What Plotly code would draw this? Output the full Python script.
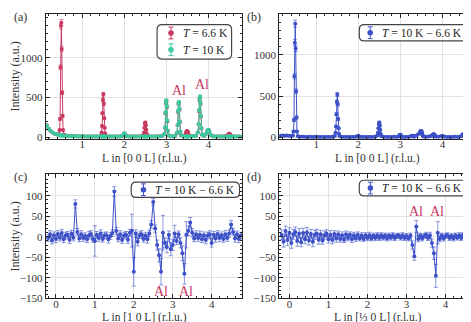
import plotly.graph_objects as go

W, H = 471, 322
FONT = "Liberation Serif"
RED = "#c8385f"
TEAL = "#3cc8a0"
BLUE = "#3c50c8"

# ---- [0 0 L] scans, panels (a) and (b) ----
L_00L = [
    0.15, 0.20, 0.25, 0.30, 0.35, 0.40, 0.44, 0.46, 0.47, 0.48,
    0.49, 0.50, 0.51, 0.52, 0.53, 0.54, 0.56, 0.60, 0.65, 0.70,
    0.75, 0.80, 0.85, 0.90, 0.95, 1.00, 1.05, 1.10, 1.15, 1.20,
    1.25, 1.30, 1.35, 1.40, 1.44, 1.46, 1.47, 1.48, 1.49, 1.50,
    1.51, 1.52, 1.53, 1.54, 1.56, 1.60, 1.65, 1.70, 1.75, 1.80,
    1.85, 1.90, 1.95, 1.98, 2.00, 2.02, 2.05, 2.10, 2.15, 2.20,
    2.25, 2.30, 2.35, 2.40, 2.45, 2.47, 2.48, 2.49, 2.50, 2.51,
    2.52, 2.53, 2.55, 2.60, 2.65, 2.70, 2.75, 2.80, 2.85, 2.90,
    2.95, 2.97, 2.98, 2.99, 3.00, 3.01, 3.02, 3.03, 3.05, 3.10,
    3.15, 3.20, 3.25, 3.27, 3.28, 3.29, 3.30, 3.31, 3.32, 3.33,
    3.35, 3.40, 3.45, 3.47, 3.48, 3.49, 3.50, 3.51, 3.52, 3.53,
    3.55, 3.60, 3.65, 3.70, 3.75, 3.77, 3.78, 3.79, 3.80, 3.81,
    3.82, 3.83, 3.85, 3.90, 3.95, 3.98, 4.00, 4.02, 4.05, 4.10,
    4.15, 4.20, 4.25, 4.30, 4.35, 4.40, 4.45, 4.47, 4.48, 4.49,
    4.50, 4.51, 4.52, 4.53, 4.55, 4.60, 4.65, 4.70, 4.75,
]
I_6K6 = [
    150, 105, 75, 55, 42, 35, 40, 90, 230, 880,
    1400, 1440, 1110, 560, 270, 90, 30, 22, 18, 15,
    13, 12, 11, 10, 10, 14, 10, 9, 9, 9,
    9, 9, 9, 10, 20, 60, 140, 300, 470, 540,
    420, 240, 120, 50, 18, 10, 9, 9, 9, 9,
    9, 10, 14, 30, 48, 32, 14, 10, 9, 9,
    9, 9, 10, 12, 25, 60, 120, 170, 185, 150,
    95, 45, 18, 10, 9, 9, 9, 10, 12, 16,
    40, 120, 300, 430, 450, 380, 200, 80, 25, 12,
    10, 14, 50, 150, 320, 420, 430, 350, 190, 70,
    25, 14, 30, 55, 70, 78, 75, 65, 45, 25,
    14, 11, 12, 18, 60, 160, 330, 470, 500, 420,
    260, 110, 30, 20, 45, 80, 90, 70, 30, 12,
    10, 10, 10, 10, 10, 11, 16, 28, 38, 44,
    45, 40, 30, 20, 12, 10, 10, 9, 9,
]
E_6K6 = [
    12, 10, 9, 8, 7, 6, 7, 10, 16, 30,
    38, 40, 34, 24, 17, 10, 6, 5, 5, 4,
    4, 4, 4, 3, 3, 4, 3, 3, 3, 3,
    3, 3, 3, 3, 5, 8, 12, 17, 22, 24,
    21, 16, 11, 7, 4, 3, 3, 3, 3, 3,
    3, 3, 4, 6, 7, 6, 4, 3, 3, 3,
    3, 3, 3, 4, 5, 8, 11, 13, 14, 12,
    10, 7, 4, 3, 3, 3, 3, 3, 4, 4,
    6, 11, 17, 21, 21, 19, 14, 9, 5, 4,
    3, 4, 7, 12, 18, 20, 21, 19, 14, 8,
    5, 4, 6, 7, 8, 9, 9, 8, 7, 5,
    4, 3, 4, 4, 8, 13, 18, 22, 22, 20,
    16, 10, 6, 5, 7, 9, 10, 8, 6, 3,
    3, 3, 3, 3, 3, 3, 4, 5, 6, 7,
    7, 6, 5, 4, 4, 3, 3, 3, 3,
]
I_10K = [
    148, 108, 78, 57, 44, 36, 30, 27, 26, 25,
    24, 24, 23, 22, 21, 20, 19, 17, 15, 14,
    13, 12, 11, 11, 10, 15, 10, 9, 9, 9,
    9, 9, 9, 9, 9, 9, 9, 9, 10, 10,
    10, 9, 9, 9, 9, 9, 9, 9, 9, 9,
    9, 10, 15, 32, 52, 35, 15, 10, 9, 9,
    9, 9, 9, 9, 9, 9, 9, 9, 9, 9,
    9, 9, 9, 9, 9, 9, 9, 10, 12, 16,
    40, 125, 310, 440, 460, 390, 210, 85, 27, 12,
    10, 14, 52, 155, 330, 430, 440, 360, 195, 72,
    25, 14, 10, 9, 9, 9, 9, 9, 9, 9,
    10, 11, 12, 18, 62, 165, 340, 480, 510, 430,
    270, 115, 32, 20, 48, 85, 95, 75, 32, 12,
    10, 10, 10, 10, 9, 9, 9, 9, 9, 9,
    9, 9, 9, 9, 9, 9, 9, 9, 9,
]
E_10K = [
    12, 10, 9, 8, 7, 6, 5, 5, 5, 5,
    5, 5, 5, 5, 5, 4, 4, 4, 4, 4,
    4, 4, 3, 3, 3, 4, 3, 3, 3, 3,
    3, 3, 3, 3, 3, 3, 3, 3, 3, 3,
    3, 3, 3, 3, 3, 3, 3, 3, 3, 3,
    3, 3, 4, 6, 7, 6, 4, 3, 3, 3,
    3, 3, 3, 3, 3, 3, 3, 3, 3, 3,
    3, 3, 3, 3, 3, 3, 3, 3, 4, 4,
    6, 11, 18, 21, 22, 20, 15, 9, 5, 4,
    3, 4, 7, 12, 18, 21, 21, 19, 14, 8,
    5, 4, 3, 3, 3, 3, 3, 3, 3, 3,
    3, 3, 4, 4, 8, 13, 18, 22, 23, 21,
    16, 11, 6, 5, 7, 9, 10, 9, 6, 3,
    3, 3, 3, 3, 3, 3, 3, 3, 3, 3,
    3, 3, 3, 3, 3, 3, 3, 3, 3,
]
I_DIFF_00L = [
    18, 20, 17, 19, 16, 14, 20, 70, 210, 740,
    1150, 1380, 1080, 560, 240, 70, 15, 6, 5, 4,
    3, 3, 4, 2, 3, 5, 3, 2, 3, 2,
    3, 2, 3, 4, 15, 55, 130, 280, 430, 520,
    400, 220, 110, 40, 10, 4, 3, 2, 3, 2,
    3, 2, 4, 10, 18, 8, 3, 2, 3, 2,
    3, 2, 3, 4, 20, 55, 110, 160, 178, 140,
    90, 40, 12, 4, 3, 2, 3, 2, 4, 3,
    5, 10, 18, 25, 28, 20, 10, 5, 3, 2,
    3, 4, 8, 12, 15, 18, 17, 14, 9, 5,
    15, 25, 45, 60, 68, 75, 72, 60, 40, 20,
    8, 4, 6, 10, 18, 26, 32, 35, 33, 28,
    20, 12, 6, 4, 8, 12, 14, 10, 5, 3,
    3, 2, 3, 4, 3, 5, 12, 22, 30, 35,
    36, 32, 24, 15, 8, 4, 3, 2, 3,
]
E_DIFF_00L = [
    8, 8, 8, 8, 8, 8, 9, 12, 18, 32,
    40, 44, 38, 28, 20, 12, 7, 5, 5, 5,
    5, 5, 5, 5, 5, 6, 5, 5, 5, 5,
    5, 5, 5, 5, 6, 9, 13, 18, 22, 25,
    22, 17, 12, 8, 6, 5, 5, 5, 5, 5,
    5, 5, 5, 7, 8, 6, 5, 5, 5, 5,
    5, 5, 5, 5, 6, 9, 12, 14, 15, 13,
    11, 8, 6, 5, 5, 5, 5, 5, 5, 5,
    7, 10, 14, 17, 18, 17, 13, 9, 6, 5,
    5, 6, 8, 11, 13, 14, 14, 13, 10, 7,
    6, 6, 8, 10, 11, 12, 12, 11, 9, 7,
    6, 5, 6, 6, 8, 10, 12, 13, 13, 12,
    10, 8, 6, 5, 6, 7, 8, 7, 6, 5,
    5, 5, 5, 5, 5, 5, 6, 7, 8, 9,
    9, 8, 7, 6, 5, 5, 5, 5, 5,
]

# ---- [1 0 L] and [1/3 0 L] difference scans, panels (c) and (d) ----
L_H0L = [
    -0.20, -0.15, -0.10, -0.05, 0.00, 0.05, 0.10, 0.15, 0.20, 0.25,
    0.30, 0.35, 0.40, 0.45, 0.50, 0.55, 0.60, 0.65, 0.70, 0.75,
    0.80, 0.85, 0.90, 0.95, 1.00, 1.05, 1.10, 1.15, 1.20, 1.25,
    1.30, 1.35, 1.40, 1.45, 1.50, 1.55, 1.60, 1.65, 1.70, 1.75,
    1.80, 1.85, 1.90, 1.95, 2.00, 2.05, 2.10, 2.15, 2.20, 2.25,
    2.30, 2.35, 2.40, 2.45, 2.50, 2.55, 2.60, 2.65, 2.70, 2.75,
    2.80, 2.85, 2.90, 2.95, 3.00, 3.05, 3.10, 3.15, 3.20, 3.25,
    3.30, 3.35, 3.40, 3.45, 3.50, 3.55, 3.60, 3.65, 3.70, 3.75,
    3.80, 3.85, 3.90, 3.95, 4.00, 4.05, 4.10, 4.15, 4.20, 4.25,
    4.30, 4.35, 4.40, 4.45, 4.50, 4.55, 4.60, 4.65, 4.70, 4.75,
]
I_DIFF_10L = [
    -3, 6, -9, 4, -5, 7, -2, 9, -6, 3,
    5, -7, 8, -2, 80, 12, -4, 6, -3, 2,
    -6, 4, 7, -5, -10, 5, -3, 8, -5, 3,
    4, -6, 2, 9, 110, 14, -4, 6, -8, 3,
    5, -7, 10, 15, -85, 8, -12, 4, 6, -5,
    3, -6, 8, 30, 85, 20, -20, -45, -85, 10,
    -15, -25, 5, -30, -20, 8, -10, 6, -15, -40,
    -90, 5, 15, 35, 10, -4, 6, -3, 5, -6,
    4, -8, 3, 6, -15, 5, -4, 7, -3, 4,
    -5, 6, -3, 8, 30, 12, -4, 6, -5, 3,
]
E_DIFF_10L = [
    8, 9, 8, 8, 9, 8, 8, 9, 8, 8,
    8, 9, 8, 8, 10, 8, 8, 9, 8, 8,
    8, 9, 8, 8, 37, 8, 8, 9, 8, 8,
    8, 9, 8, 8, 12, 9, 8, 9, 8, 8,
    8, 9, 8, 40, 35, 9, 10, 8, 9, 8,
    8, 9, 8, 9, 8, 9, 12, 16, 32, 42,
    12, 14, 9, 16, 13, 20, 9, 8, 12, 18,
    25, 32, 12, 12, 10, 8, 9, 8, 9, 8,
    8, 9, 8, 9, 10, 8, 9, 8, 9, 8,
    8, 9, 8, 9, 10, 8, 9, 8, 9, 8,
]
I_DIFF_T0L = [
    5, -12, 14, -8, 10, -15, 6, 12, -10, 8,
    -13, 9, -6, 11, -9, 7, -12, 5, 8, -7,
    6, -9, 4, 8, -6, 5, -8, 7, -4, 6,
    -5, 4, -7, 6, -3, 5, -6, 4, -4, 5,
    -4, 3, -5, 4, -3, 4, -4, 3, -3, 4,
    -3, 4, -2, 3, -4, 3, -2, 4, -3, 2,
    3, -2, 4, -3, 2, -4, 3, -20, -47, 25,
    -5, 3, -4, 2, 5, -3, 4, -15, -40, -95,
    10, -5, 3, -4, 2, 4, -3, 2, -4, 3,
    -2, 4, -3, 5, -2, 4, -3, 6, -4, 5,
]
E_DIFF_T0L = [
    12, 13, 12, 13, 12, 13, 12, 12, 13, 12,
    11, 12, 11, 12, 11, 11, 12, 11, 10, 11,
    10, 9, 10, 9, 9, 10, 9, 8, 9, 8,
    8, 8, 7, 8, 7, 7, 8, 7, 7, 7,
    6, 7, 6, 6, 6, 7, 6, 6, 6, 6,
    6, 6, 6, 6, 6, 6, 6, 6, 6, 6,
    6, 6, 6, 6, 6, 6, 6, 10, 10, 15,
    7, 6, 6, 6, 6, 6, 7, 10, 15, 28,
    27, 7, 6, 6, 6, 6, 6, 6, 6, 6,
    6, 6, 6, 6, 6, 6, 6, 6, 6, 6,
]

X_TICKS_00L = [1, 2, 3, 4]
X_TICKS_H0L = [0, 1, 2, 3, 4]
Y_TICKS_00L = [0, 500, 1000]
Y_TICKS_DIFF = [-150, -100, -50, 0, 50, 100]

LEGEND_6K6 = "<i>T</i> = 6.6 K"
LEGEND_10K = "<i>T</i> = 10 K"
LEGEND_DIFF = "<i>T</i> = 10 K − 6.6 K"


def px(x):
    return x / W


def py(y):
    return 1 - y / H


def rgba(hex_color, a):
    h = hex_color.lstrip("#")
    r, g, b = int(h[0:2], 16), int(h[2:4], 16), int(h[4:6], 16)
    return f"rgba({r},{g},{b},{a})"


def scan_trace(x, y, err, color, xa, ya):
    return go.Scatter(
        x=x, y=y, xaxis=xa, yaxis=ya,
        mode="lines+markers",
        line=dict(color=color, width=1),
        marker=dict(color=color, size=4),
        error_y=dict(type="data", array=err, color=rgba(color, 0.75),
                     thickness=0.8, width=2),
        showlegend=False, hoverinfo="skip",
    )


fig = go.Figure()
fig.add_trace(scan_trace(L_00L, I_6K6, E_6K6, RED, "x", "y"))
fig.add_trace(scan_trace(L_00L, I_10K, E_10K, TEAL, "x", "y"))
fig.add_trace(scan_trace(L_00L, I_DIFF_00L, E_DIFF_00L, BLUE, "x2", "y2"))
fig.add_trace(scan_trace(L_H0L, I_DIFF_10L, E_DIFF_10L, BLUE, "x3", "y3"))
fig.add_trace(scan_trace(L_H0L, I_DIFF_T0L, E_DIFF_T0L, BLUE, "x4", "y4"))

tick_font = dict(family=FONT, size=11, color="#333")
title_font = dict(family=FONT, size=12, color="#333")


def axis(domain, rng, tickvals, minor, anchor, title=None, standoff=3, lab_off=0):
    d = dict(
        domain=domain, range=rng, anchor=anchor, tickvals=tickvals,
        showline=True, linecolor="#222", linewidth=1.2, mirror="allticks",
        ticks="inside", ticklen=4, tickwidth=1, tickcolor="#222",
        minor=dict(dtick=minor, tick0=0, ticks="inside", ticklen=2,
                   tickcolor="#222", showgrid=False),
        showgrid=True, gridcolor="#e2e2e2", gridwidth=1.3,
        zeroline=False, tickfont=tick_font, ticklabelstandoff=lab_off,
    )
    if title:
        d["title"] = dict(text=title, font=title_font, standoff=standoff)
    return d


XL = [px(35), px(232.5)]
XR = [px(270), px(468)]
YT = [py(133.3), py(6)]
YB = [py(296), py(169.5)]

fig.update_layout(
    width=W, height=H,
    margin=dict(l=0, r=0, t=0, b=0),
    paper_bgcolor="white", plot_bgcolor="white",
    font=dict(family=FONT, color="#333"),
    xaxis=axis(XL, [0.13, 4.8], X_TICKS_00L, 0.2, "y", lab_off=-5),
    yaxis=axis(YT, [-20, 1550], Y_TICKS_00L, 100, "x", "Intensity (a.u.)"),
    xaxis2=axis(XR, [0.12, 4.8], X_TICKS_00L, 0.2, "y2", lab_off=-5),
    yaxis2=axis(YT, [-20, 1500], Y_TICKS_00L, 100, "x2"),
    xaxis3=axis(XL, [-0.26, 4.78], X_TICKS_H0L, 0.2, "y3", lab_off=-5),
    yaxis3=axis(YB, [-150, 152], Y_TICKS_DIFF, 10, "x3", "Intensity (a.u.)"),
    xaxis4=axis(XR, [-0.26, 4.78], X_TICKS_H0L, 0.2, "y4", lab_off=-5),
    yaxis4=axis(YB, [-150, 152], Y_TICKS_DIFF, 10, "x4"),
)


def rounded_box(x0, y0, x1, y1, r=5):
    # pixel corners -> paper path with rounded corners
    pts = [
        f"M {px(x0 + r)} {py(y0)}", f"L {px(x1 - r)} {py(y0)}",
        f"Q {px(x1)} {py(y0)} {px(x1)} {py(y0 + r)}",
        f"L {px(x1)} {py(y1 - r)}",
        f"Q {px(x1)} {py(y1)} {px(x1 - r)} {py(y1)}",
        f"L {px(x0 + r)} {py(y1)}",
        f"Q {px(x0)} {py(y1)} {px(x0)} {py(y1 - r)}",
        f"L {px(x0)} {py(y0 + r)}",
        f"Q {px(x0)} {py(y0)} {px(x0 + r)} {py(y0)} Z",
    ]
    return dict(type="path", xref="paper", yref="paper", path=" ".join(pts),
                line=dict(color="#444", width=1.2), fillcolor="white")


shapes, annotations = [], []


def legend_item(cx, cy, color, text):
    shapes.append(dict(type="line", xref="paper", yref="paper",
                       x0=px(cx), x1=px(cx), y0=py(cy - 6), y1=py(cy + 6),
                       line=dict(color=color, width=1)))
    for dy in (-6, 6):
        shapes.append(dict(type="line", xref="paper", yref="paper",
                           x0=px(cx - 2.5), x1=px(cx + 2.5),
                           y0=py(cy + dy), y1=py(cy + dy),
                           line=dict(color=color, width=1)))
    shapes.append(dict(type="circle", xref="paper", yref="paper",
                       x0=px(cx - 2.8), x1=px(cx + 2.8),
                       y0=py(cy - 2.8), y1=py(cy + 2.8),
                       fillcolor=color, line=dict(color=color, width=0)))
    annotations.append(dict(xref="paper", yref="paper", x=px(cx + 10), y=py(cy),
                            xanchor="left", yanchor="middle", showarrow=False,
                            text=text, font=dict(family=FONT, size=11.5, color="#222")))


shapes.append(rounded_box(147, 17, 222, 52))
legend_item(161, 25.5, RED, LEGEND_6K6)
legend_item(161, 42.5, TEAL, LEGEND_10K)
shapes.append(rounded_box(350.5, 17, 460.5, 33.5))
legend_item(361.5, 25.2, BLUE, LEGEND_DIFF)
shapes.append(rounded_box(121, 177.5, 230, 193))
legend_item(133.3, 185.2, BLUE, LEGEND_DIFF)
shapes.append(rounded_box(350.5, 175.5, 459, 191.5))
legend_item(361.7, 183.5, BLUE, LEGEND_DIFF)

for label, x, y in [("(a)", 1, 0), ("(b)", 236, 0), ("(c)", 1, 163), ("(d)", 236, 163)]:
    annotations.append(dict(xref="paper", yref="paper", x=px(x), y=py(y),
                            xanchor="left", yanchor="top", showarrow=False,
                            text=label, font=dict(family=FONT, size=12, color="#333")))

# x-axis titles (placed directly under the tick labels)
for text, cx, cy in [("L in [0 0 L] (r.l.u.)", 134, 153),
                     ("L in [0 0 L] (r.l.u.)", 369, 153),
                     ("L in [1 0 L] (r.l.u.)", 134, 315),
                     ("L in [⅓ 0 L] (r.l.u.)", 369, 315)]:
    annotations.append(dict(xref="paper", yref="paper", x=px(cx), y=py(cy),
                            xanchor="center", yanchor="middle", showarrow=False,
                            text=text, font=dict(family=FONT, size=11.5, color="#333")))

# Al impurity labels
AL_LABELS = [("x", "y", 3.30, 585), ("x", "y", 3.85, 660),
             ("x3", "y3", 2.70, -134), ("x3", "y3", 3.35, -134),
             ("x4", "y4", 3.25, 62), ("x4", "y4", 3.78, 62)]
for xa, ya, lx, ly in AL_LABELS:
    annotations.append(dict(xref=xa, yref=ya, x=lx, y=ly, text="Al",
                            showarrow=False, xanchor="center", yanchor="middle",
                            font=dict(family=FONT, size=14, color=RED)))

fig.update_layout(shapes=shapes, annotations=annotations)
fig.write_html("out.html")
